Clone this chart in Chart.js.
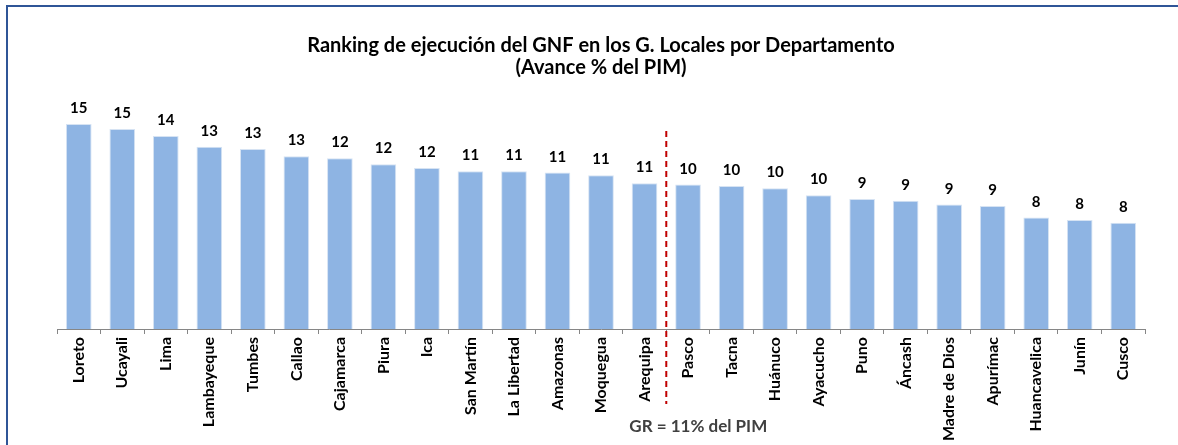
<!DOCTYPE html>
<html>
<head>
<meta charset="utf-8">
<script src="https://cdn.jsdelivr.net/npm/chart.js@4"></script>
<style>
  html, body { margin: 0; padding: 0; background: #fff; }
  #wrap { width: 1178px; height: 445px; }
</style>
</head>
<body>
<div id="wrap"><canvas id="rankChart" width="1178" height="445"></canvas></div>
<script>
// Data
const departamentos = ['Loreto','Ucayali','Lima','Lambayeque','Tumbes','Callao','Cajamarca','Piura','Ica','San Martín','La Libertad','Amazonas','Moquegua','Arequipa','Pasco','Tacna','Huánuco','Ayacucho','Puno','Áncash','Madre de Dios','Apurímac','Huancavelica','Junín','Cusco'];
const avancePIM = [14.88,14.51,14.01,13.23,13.07,12.54,12.39,11.96,11.69,11.45,11.45,11.35,11.16,10.58,10.48,10.38,10.22,9.71,9.44,9.30,9.03,8.93,8.09,7.92,7.72];
const titulo = ['Ranking de ejecución del GNF en los G. Locales por Departamento', '(Avance % del PIM)'];
const notaGR = 'GR = 11% del PIM';
const corteDespuesDe = 13; // Arequipa

const FONT = 'Lato, "Open Sans", sans-serif';

// frame, value labels, dashed line and note
const extras = {
  id: 'extras',
  afterDraw(chart) {
    const ctx = chart.ctx;
    const x = chart.scales.x;
    const meta = chart.getDatasetMeta(0);
    ctx.save();

    // blue frame (left + top)
    ctx.strokeStyle = '#2f5597';
    ctx.lineWidth = 2;
    ctx.beginPath();
    ctx.moveTo(7, 445);
    ctx.lineTo(7, 6);
    ctx.lineTo(1178, 6);
    ctx.stroke();

    // value labels
    ctx.fillStyle = '#000';
    ctx.font = 'bold 15px ' + FONT;
    ctx.textAlign = 'center';
    ctx.textBaseline = 'alphabetic';
    meta.data.forEach((bar, i) => {
      ctx.fillText(Math.round(avancePIM[i]), bar.x, bar.y - 11);
    });

    // dashed red line between Arequipa and Pasco
    const xl = (x.getPixelForValue(corteDespuesDe) + x.getPixelForValue(corteDespuesDe + 1)) / 2;
    ctx.strokeStyle = '#c00000';
    ctx.lineWidth = 2;
    ctx.setLineDash([6, 4]);
    ctx.beginPath();
    ctx.moveTo(xl, 131);
    ctx.lineTo(xl, 404);
    ctx.stroke();
    ctx.setLineDash([]);

    // note
    ctx.fillStyle = '#404040';
    ctx.font = 'bold 17px ' + FONT;
    ctx.textBaseline = 'middle';
    ctx.fillText(notaGR, xl + 32, 427);
    ctx.restore();
  }
};

const ctx = document.getElementById('rankChart');
new Chart(ctx, {
  type: 'bar',
  data: {
    labels: departamentos,
    datasets: [{
      label: 'Avance % del PIM',
      data: avancePIM,
      backgroundColor: '#8eb4e3',
      borderColor: '#d6e3f3',
      borderWidth: 1,
      categoryPercentage: 1,
      barPercentage: 0.59
    }]
  },
  options: {
    responsive: false,
    animation: false,
    layout: { padding: { left: 57, right: 33, top: 0, bottom: 0 } },
    plugins: {
      legend: { display: false },
      tooltip: { enabled: false },
      title: {
        display: true,
        text: titulo,
        color: '#000',
        font: { family: FONT, size: 20, weight: 'bold', lineHeight: 1.1 },
        padding: { top: 35, bottom: 2 }
      }
    },
    scales: {
      x: {
        offset: true,
        afterFit: s => { s.height = 116; },
        border: { color: '#868686', width: 1 },
        grid: { offset: true, drawOnChartArea: false, color: '#868686', tickLength: 5 },
        ticks: {
          minRotation: 90, maxRotation: 90, autoSkip: false,
          color: '#000', padding: 3,
          font: { family: FONT, size: 16, weight: 'bold' }
        }
      },
      y: {
        display: false,
        min: 0,
        max: 18
      }
    }
  },
  plugins: [extras]
});
</script>
</body>
</html>
